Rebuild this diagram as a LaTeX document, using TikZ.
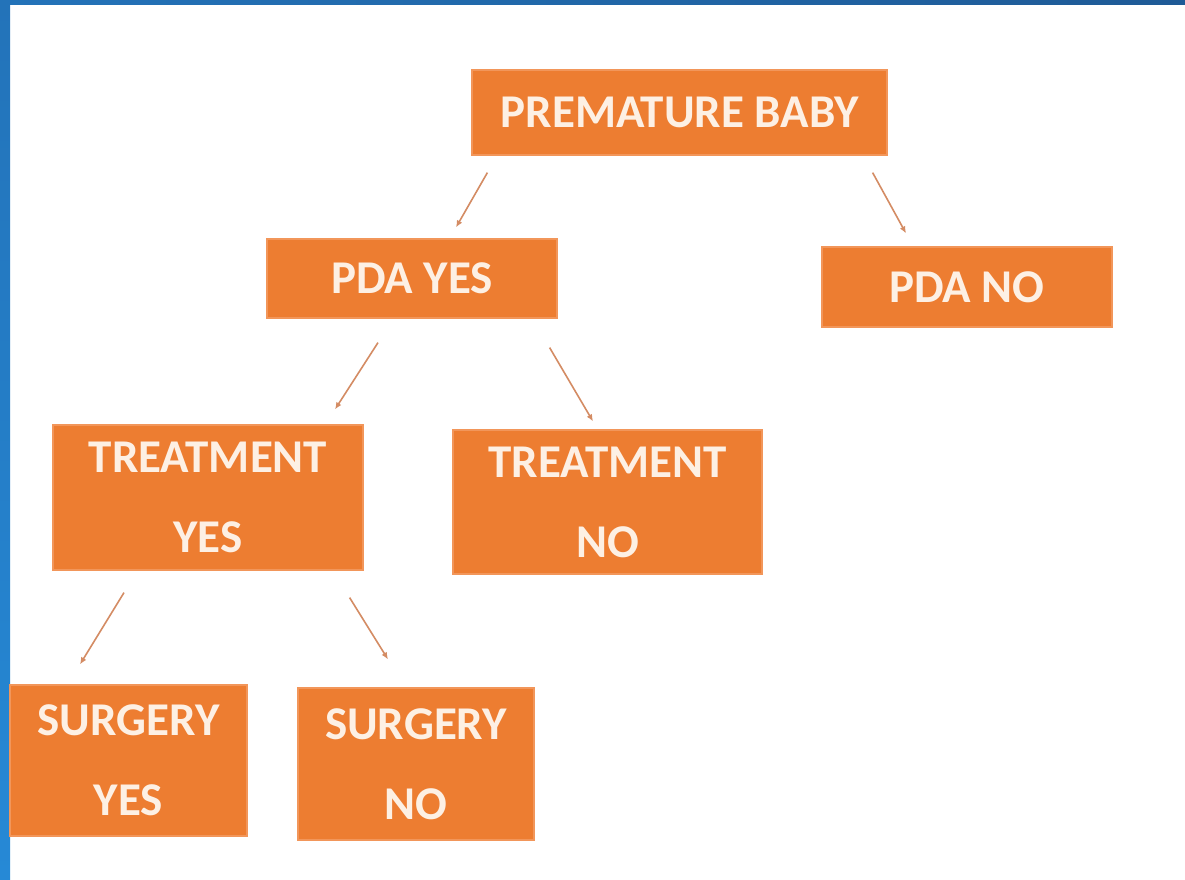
\documentclass[tikz,border=0pt]{standalone}
\usepackage{fontspec}
\setmainfont{Carlito}
\usetikzlibrary{calc}

\definecolor{boxorange}{RGB}{237,125,49}
\definecolor{boxedge}{RGB}{242,150,90}
\definecolor{boxtext}{RGB}{253,240,228}
\definecolor{arrowcol}{RGB}{212,140,100}
\definecolor{frameA}{RGB}{35,115,185}
\definecolor{frameB}{RGB}{31,90,150}
\definecolor{frameC}{RGB}{38,137,214}

\tikzset{
  tbox/.style={fill=boxorange, draw=boxedge, line width=1.2pt, text=boxtext,
    font=\bfseries\fontsize{47}{80}\selectfont, align=center, inner sep=0pt},
  conn/.style={draw=arrowcol, line width=1.6pt, -{Latex[length=7pt,width=6pt]}}
}
\usetikzlibrary{arrows.meta}

\begin{document}
\begin{tikzpicture}[x=1pt,y=-1pt]
%set diagram to 1185 x 880
\useasboundingbox (0,0) rectangle (1185,880);
\fill[white] (0,0) rectangle (1185,880);

%Frame: blue strips
\shade[left color=frameA, right color=frameB] (0,0) rectangle (1185,5);
\shade[top color=frameA, bottom color=frameC] (0,0) rectangle (10,880);

%Boxes
\node[tbox, minimum width=415, minimum height=85] (baby) at (679.5,112.5) {PREMATURE BABY};
\node[tbox, minimum width=290, minimum height=79] (pdayes) at (412,278.5) {PDA YES};
\node[tbox, minimum width=290, minimum height=80] (pdano) at (967,287) {PDA NO};
\node[tbox, minimum width=310, minimum height=145] (treatyes) at (208,497.5) {TREATMENT\\YES};
\node[tbox, minimum width=309, minimum height=144] (treatno) at (607.5,502) {TREATMENT\\NO};
\node[tbox, minimum width=237, minimum height=151] (surgyes) at (128.5,760.5) {SURGERY\\YES};
\node[tbox, minimum width=236, minimum height=152] (surgno) at (416,764) {SURGERY\\NO};

%Arrows
\draw[conn] ($(baby.south west)+(16,17)$) -- ($(pdayes.north)+(44,-11)$);
\draw[conn] ($(baby.south east)+(-15,17)$) -- ($(pdano.north)+(-61,-13)$);
\draw[conn] ($(pdayes.south)+(-34,24)$) -- ($(treatyes.north)+(127,-15)$);
\draw[conn] ($(pdayes.south east)+(-8,29)$) -- ($(treatno.north)+(-14.5,-8)$);
\draw[conn] ($(treatyes.south)+(-84,22)$) -- ($(surgyes.north)+(-48.5,-20)$);
\draw[conn] ($(treatyes.south east)+(-14,27)$) -- ($(surgno.north)+(-28,-28)$);

\end{tikzpicture}
\end{document}
